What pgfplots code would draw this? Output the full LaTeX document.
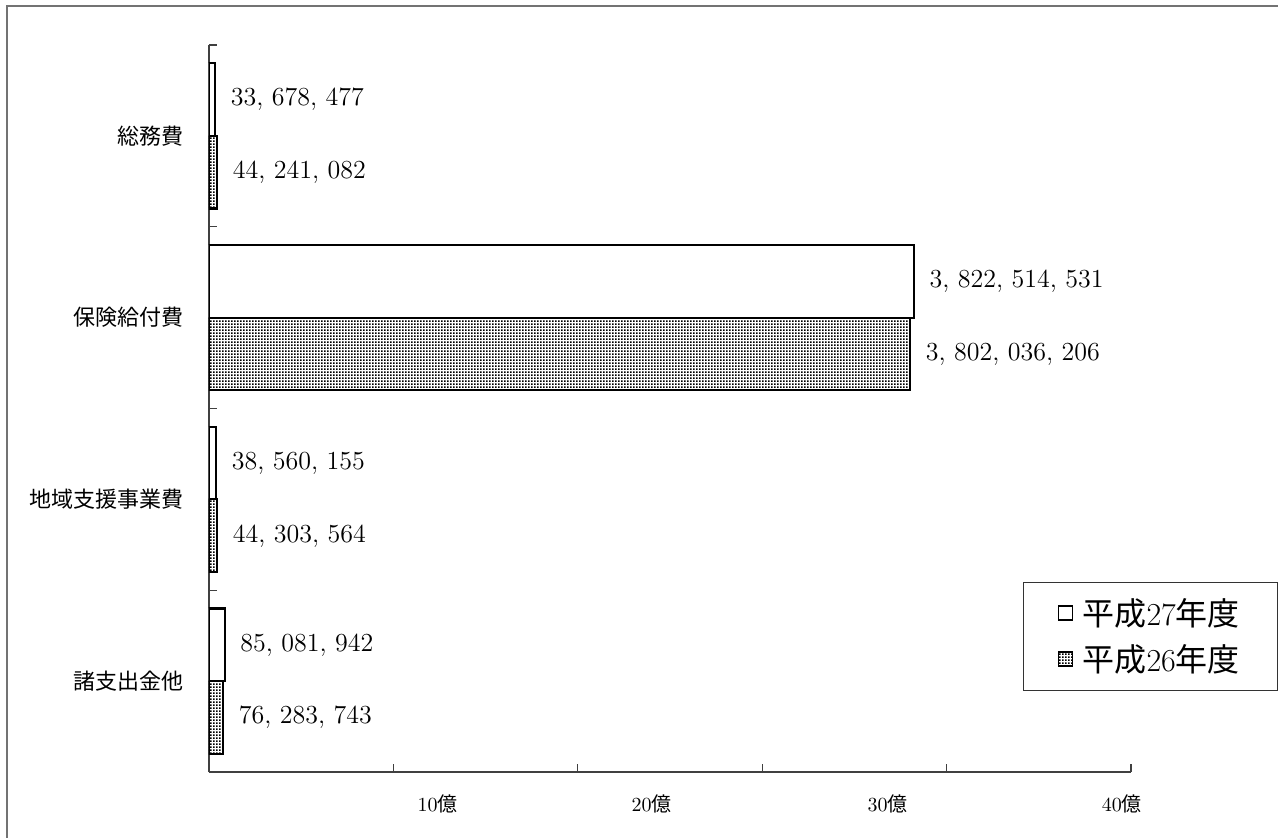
\documentclass[border=0pt]{standalone}
\usepackage{fontspec}
\usepackage{pgfplots}
\pgfplotsset{compat=1.18}
\usetikzlibrary{patterns.meta}
\newfontfamily\cjk{Noto Sans CJK JP}

% fine dot screen used for the 平成26年度 bars
\tikzdeclarepattern{
  name=finedots,
  type=uncolored,
  bottom left={(0pt,0pt)},
  top right={(1.5pt,1.5pt)},
  tile size={(1.5pt,1.5pt)},
  code={\fill (0pt,0pt) rectangle (1pt,1pt);}
}

\pgfplotsset{
  legsq/.style={legend image code/.code={%
    \draw[##1, line width=0.9pt] (0pt,-3.5pt) rectangle (7pt,3.5pt);
    \path[draw=none, fill=none] (0pt,0pt) -- (10pt,0pt);}},
}

\begin{document}
\begin{tikzpicture}
\useasboundingbox (-104.5pt,-32.5pt) rectangle (534.5pt,386pt);
\begin{axis}[
  scale only axis, width=461pt, height=363.5pt,
  xbar, bar width=0.4,
  xmin=0, xmax=5e9, ymin=-0.5, ymax=3.5,
  scaled ticks=false,
  axis x line=bottom, axis y line=left,
  axis line style={-, black!75, line width=0.6pt},
  tick align=inside, major tick length=4pt,
  tick style={black!75, line width=0.6pt},
  xtick={0,1e9,2e9,3e9,4e9,5e9}, xticklabels={},
  ytick={-0.5,0.5,1.5,2.5,3.5}, yticklabels={},
  extra x ticks={1.24e9,2.4e9,3.68e9,4.95e9},
  extra x tick labels={10{\cjk 億},20{\cjk 億},30{\cjk 億},40{\cjk 億}},
  extra x tick style={major tick length=0pt, tick style={draw=none},
    tick label style={font=\fontsize{10}{12}\selectfont, yshift=-8pt}},
  extra y ticks={0,1,2,3},
  extra y tick labels={諸支出金他,地域支援事業費,保険給付費,総務費},
  extra y tick style={major tick length=0pt, tick style={draw=none},
    tick label style={font=\cjk\fontsize{11}{13}\selectfont, xshift=-9pt}},
  point meta=explicit symbolic,
  nodes near coords={\pgfplotspointmeta},
  every node near coord/.append style={anchor=west, xshift=4pt, text=black,
    font=\fontsize{13}{15}\selectfont},
  legend style={at={(1.16,0.262)}, anchor=north east, draw=black!80,
    line width=0.6pt, font=\fontsize{16}{18}\selectfont,
    inner xsep=17pt, inner ysep=6pt, row sep=4pt, cells={anchor=west}},
]
\addplot[bar shift=0.2, draw=black, fill=white, line width=1.1pt, legsq]
  coordinates {
    (33678477,3) [33,\ 678,\ 477]
    (3822514531,2) [3,\ 822,\ 514,\ 531]
    (38560155,1) [38,\ 560,\ 155]
    (85081942,0) [85,\ 081,\ 942]
  };
\addlegendentry{{\cjk 平成}27{\cjk 年度}}
\addplot[bar shift=-0.2, draw=black, pattern=finedots, pattern color=black, line width=1.1pt, legsq]
  coordinates {
    (44241082,3) [44,\ 241,\ 082]
    (3802036206,2) [3,\ 802,\ 036,\ 206]
    (44303564,1) [44,\ 303,\ 564]
    (76283743,0) [76,\ 283,\ 743]
  };
\addlegendentry{{\cjk 平成}26{\cjk 年度}}
\end{axis}
\draw[black!55, line width=0.8pt] (-101pt,-40pt) |- (540pt,383pt);
\end{tikzpicture}
\end{document}
